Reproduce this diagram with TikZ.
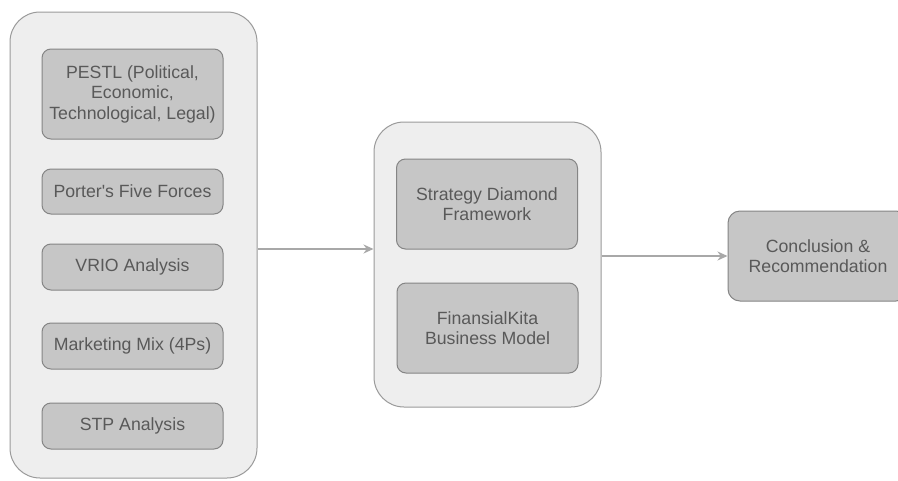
\documentclass[tikz,border=0pt]{standalone}
\usepackage{fontspec}
\setmainfont{Liberation Sans}[Ligatures=TeXOff]
\usetikzlibrary{arrows.meta}
\definecolor{contfill}{HTML}{EEEEEE}
\definecolor{contline}{HTML}{9A9A9A}
\definecolor{boxfill}{HTML}{C6C6C6}
\definecolor{boxline}{HTML}{858585}
\definecolor{txt}{HTML}{595959}
\definecolor{arrcol}{HTML}{A8A8A8}
\tikzset{
  container/.style={draw=contline, fill=contfill, line width=1pt, rounded corners=30pt, inner sep=0pt},
  itembox/.style={draw=boxline, fill=boxfill, line width=1pt, rounded corners=9pt, inner sep=0pt,
    text=txt, align=center, font=\fontsize{17.7}{20.5}\selectfont},
  flowarrow/.style={draw=arrcol, line width=1.4pt, -{Stealth[length=10pt,width=9pt]}}
}
\begin{document}
\begin{tikzpicture}[x=1pt,y=-1pt]
\clip (0,0) rectangle (898,480);
\fill[white] (0,0) rectangle (898,480);
% containers
\node[container, minimum width=247pt, minimum height=466pt] (left) at (133.5,245) {};
\node[container, minimum width=227pt, minimum height=285pt] (mid) at (487.5,264.5) {};
% left items
\node[itembox, minimum width=181pt, minimum height=90pt] (pestl) at (132.5,94) {PESTL (Political,\\Economic,\\Technological, Legal)};
\node[itembox, minimum width=181pt, minimum height=45pt] (porter) at (132.5,191.5) {Porter's Five Forces};
\node[itembox, minimum width=181pt, minimum height=46pt] (vrio) at (132.5,267) {VRIO Analysis};
\node[itembox, minimum width=181pt, minimum height=46pt] (mix) at (132.5,346) {Marketing Mix (4Ps)};
\node[itembox, minimum width=181pt, minimum height=46pt] (stp) at (132.5,426) {STP Analysis};
% middle items
\node[itembox, minimum width=181pt, minimum height=90pt] (diamond) at (487,204) {Strategy Diamond\\Framework};
\node[itembox, minimum width=181pt, minimum height=90pt] (model) at (487.5,328) {FinansialKita\\Business Model};
% conclusion
\node[itembox, minimum width=180pt, minimum height=90pt, rounded corners=12pt] (concl) at (818,256) {Conclusion \&\\Recommendation};
% arrows
\coordinate (ya) at (0,249);
\draw[flowarrow] (left.east |- ya) -- (mid.west |- ya);
\draw[flowarrow] (mid.east |- concl.west) -- (concl.west);
\end{tikzpicture}
\end{document}
